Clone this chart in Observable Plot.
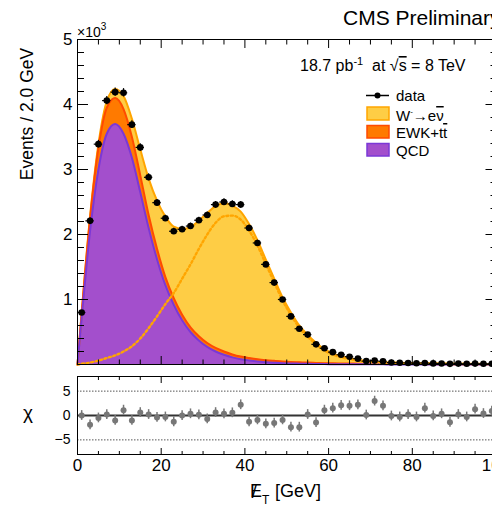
<!DOCTYPE html>
<html>
<head>
<meta charset="utf-8">
<script src="https://cdn.jsdelivr.net/npm/d3@7"></script>
<script src="https://cdn.jsdelivr.net/npm/@observablehq/plot@0.6"></script>
<style>
html, body { margin: 0; padding: 0; background: #fff; overflow: hidden; }
#wrap { position: relative; width: 496px; height: 506px; overflow: hidden; font-family: "Liberation Sans", Arial, sans-serif; color: #000; }
#wrap svg { position: absolute; left: 0; max-width: none; }
</style>
</head>
<body>
<div id="wrap"></div>
<script>
// ---- data (events per 2 GeV bin, bin centres in GeV) ----
const binCenters = [1,3,5,7,9,11,13,15,17,19,21,23,25,27,29,31,33,35,37,39,41,43,45,47,49,51,53,55,57,59,61,63,65,67,69,71,73,75,77,79,81,83,85,87,89,91,93,95,97,99];
const dataEvents = [800,2210,3390,4060,4190,4180,3690,3340,2880,2490,2250,2050,2080,2130,2220,2300,2460,2500,2470,2460,2100,1870,1540,1260,1000,740,550,460,310,250,190,150,120,90,52,60,50,30,28,24,20,24,17,16,10,14,11,14,11,12];
const chiValues = [0.0,-1.9,-0.5,0.2,-1.0,1.1,-1.0,0.6,0.2,-0.4,-0.3,-1.3,0.0,0.35,0.15,-0.7,0.6,0.35,0.55,2.2,-1.3,-0.9,-1.7,-1.55,-0.9,-2.4,-2.4,0.2,-1.45,1.1,1.5,2.1,2.0,2.2,0.1,2.95,2.0,-0.1,-0.3,0.2,-0.3,1.5,-0.1,0.35,-1.4,0.2,-0.3,1.3,0.4,0.9];

// ---- model components, at x = 0, bin centres, 100 ----
const modelX = [0,1,3,5,7,9,11,13,15,17,19,21,23,25,27,29,31,33,35,37,39,41,43,45,47,49,51,53,55,57,59,61,63,65,67,69,71,73,75,77,79,81,83,85,87,89,91,93,95,97,99,100];
const qcdModel = [0,720,2050,3000,3550,3700,3550,3180,2650,2100,1620,1220,920,680,500,370,270,200,150,110,80,60,45,35,27,20,16,13,10,8,6,5,4,3,3,2,2,2,1,1,1,1,1,1,1,1,1,1,1,1,1,1];
const ewkModel = [0,70,200,330,400,400,380,320,260,200,160,125,100,85,72,65,60,55,50,45,42,40,36,32,29,26,23,21,19,17,15,13,12,11,10,9,8,7,6.5,6,5.5,5,5,4.5,4,4,3.5,3.5,3,3,3,3];
const wModel = [0,10,30,60,100,140,200,280,400,560,740,930,1100,1320,1540,1780,2000,2180,2280,2290,2230,2060,1830,1545,1265,985,762,567,427,311,215,153,110,85,60,42,33,27,24,21,18,15,13,12,10,9,8,7,6,6,5,5];

// ---- ticks ----
const xMajor = [0,20,40,60,80,100];
const xMinor = [5,10,15,25,30,35,45,50,55,65,70,75,85,90,95];
const yMajorTop = [0,1000,2000,3000,4000,5000];
const yLabelTop = [1000,2000,3000,4000,5000];
const yMinorTop = d3.range(0, 5001, 200).filter(d => d % 1000 !== 0);
const chiTicks = [-5,0,5];

// ---- colours ----
const W_FILL = "#fecd45", W_LINE = "#ffa500";
const EWK_FILL = "#ff7a00", EWK_LINE = "#ff4a00";
const QCD_FILL = "#a34fcc", QCD_LINE = "#7b38d6";
const CHI_COL = "#777777";

const modelRows = modelX.map((x, i) => ({
  x,
  qcd: qcdModel[i],
  ewkTop: qcdModel[i] + ewkModel[i],
  total: qcdModel[i] + ewkModel[i] + wModel[i],
  w: wModel[i]
}));
const dataRows = binCenters.map((x, i) => ({x, y: dataEvents[i], err: Math.sqrt(dataEvents[i]), chi: chiValues[i]}));

const curve = "monotone-x";
const font = "'Liberation Sans', Arial, sans-serif";
const noText = () => "";

const topPlot = Plot.plot({
  width: 496, height: 370,
  marginLeft: 77, marginRight: 0.5, marginTop: 39, marginBottom: 6,
  x: {domain: [0, 100], label: null},
  y: {domain: [0, 5000], label: null},
  style: {fontFamily: font, fontSize: "17px", color: "#000", background: "transparent", overflow: "visible"},
  marks: [
    Plot.areaY(modelRows, {x: "x", y1: 0, y2: "total", fill: W_FILL, curve}),
    Plot.areaY(modelRows, {x: "x", y1: 0, y2: "ewkTop", fill: EWK_FILL, curve}),
    Plot.areaY(modelRows, {x: "x", y1: 0, y2: "qcd", fill: QCD_FILL, curve}),
    Plot.lineY(modelRows, {x: "x", y: "total", stroke: W_LINE, strokeWidth: 2, curve}),
    Plot.lineY(modelRows, {x: "x", y: "ewkTop", stroke: EWK_LINE, strokeWidth: 2, curve}),
    Plot.lineY(modelRows, {x: "x", y: "qcd", stroke: QCD_LINE, strokeWidth: 2, curve}),
    Plot.lineY(modelRows, {x: "x", y: "w", stroke: W_LINE, strokeWidth: 2.4, strokeDasharray: "2,2.6", curve}),
    Plot.ruleY(dataRows, {y: "y", x1: d => d.x - 1, x2: d => d.x + 1, stroke: "#000", strokeWidth: 1.2}),
    Plot.ruleX(dataRows, {x: "x", y1: d => d.y - d.err, y2: d => d.y + d.err, stroke: "#000", strokeWidth: 1.2}),
    Plot.dot(dataRows, {x: "x", y: "y", r: 3.3, fill: "#000"}),
    Plot.frame({stroke: "#000"}),
    Plot.axisX({anchor: "bottom", ticks: xMajor, tickSize: -8, tickFormat: noText, label: null}),
    Plot.axisX({anchor: "bottom", ticks: xMinor, tickSize: -4.5, tickFormat: noText, label: null}),
    Plot.axisX({anchor: "top", ticks: xMajor, tickSize: -8, tickFormat: noText, label: null}),
    Plot.axisX({anchor: "top", ticks: xMinor, tickSize: -4.5, tickFormat: noText, label: null}),
    Plot.axisY({anchor: "left", ticks: yMajorTop, tickSize: -11, tickFormat: noText, label: null}),
    Plot.axisY({anchor: "left", ticks: yMinorTop, tickSize: -7, tickFormat: noText, label: null}),
    Plot.axisY({anchor: "right", ticks: yMajorTop, tickSize: -11, tickFormat: noText, label: null}),
    Plot.axisY({anchor: "right", ticks: yMinorTop, tickSize: -6, tickFormat: noText, label: null}),
    Plot.axisY({anchor: "left", ticks: yLabelTop, tickSize: 0, tickPadding: 5, tickFormat: d => d / 1000, fontSize: 17, label: null})
  ]
});

const bottomPlot = Plot.plot({
  width: 496, height: 136,
  marginLeft: 77, marginRight: 0.5, marginTop: 6, marginBottom: 52,
  x: {domain: [0, 100], label: null},
  y: {domain: [-8, 8], label: null},
  style: {fontFamily: font, fontSize: "17px", color: "#000", background: "transparent", overflow: "visible"},
  marks: [
    Plot.ruleY([-5, 5], {stroke: "#555", strokeWidth: 1, strokeDasharray: "1.5,1.5"}),
    Plot.ruleY([0], {stroke: "#333", strokeWidth: 2}),
    Plot.ruleX(dataRows, {x: "x", y1: d => d.chi - 1, y2: d => d.chi + 1, stroke: CHI_COL, strokeWidth: 1.5}),
    Plot.dot(dataRows, {x: "x", y: "chi", r: 3, fill: CHI_COL}),
    Plot.frame({stroke: "#000"}),
    Plot.axisX({anchor: "bottom", ticks: xMajor, tickSize: -6, tickFormat: noText, label: null}),
    Plot.axisX({anchor: "bottom", ticks: xMinor, tickSize: -3, tickFormat: noText, label: null}),
    Plot.axisX({anchor: "top", ticks: xMajor, tickSize: -6, tickFormat: noText, label: null}),
    Plot.axisX({anchor: "top", ticks: xMinor, tickSize: -3, tickFormat: noText, label: null}),
    Plot.axisX({anchor: "bottom", ticks: xMajor, tickSize: 0, tickPadding: 4, fontSize: 17, label: null}),
    Plot.axisY({anchor: "left", ticks: chiTicks, tickSize: 0, tickPadding: 7, fontSize: 14, label: null})
  ]
});

const wrap = document.getElementById("wrap");
topPlot.style.top = "0px";
bottomPlot.style.top = "370px";
wrap.appendChild(topPlot);
wrap.appendChild(bottomPlot);

// ---- annotations overlay ----
const ns = "http://www.w3.org/2000/svg";
const overlay = document.createElementNS(ns, "svg");
overlay.setAttribute("width", 496);
overlay.setAttribute("height", 506);
overlay.style.top = "0px";
overlay.style.pointerEvents = "none";
overlay.setAttribute("font-family", font);
overlay.innerHTML = `
  <text x="343" y="25" font-size="21">CMS Preliminary</text>
  <text x="77" y="37" font-size="14">×10<tspan dy="-7" font-size="10">3</tspan></text>
  <text x="300" y="71" font-size="16" style="white-space:pre">18.7 pb<tspan dy="-6" font-size="11">-1</tspan><tspan dy="6">  at √</tspan><tspan text-decoration="overline">s</tspan> = 8 TeV</text>
  <line x1="366" x2="389" y1="95.5" y2="95.5" stroke="#000" stroke-width="1.5"/>
  <circle cx="377.5" cy="95.5" r="3" fill="#000"/>
  <text x="396" y="101" font-size="15">data</text>
  <rect x="367" y="107" width="22" height="13" fill="${W_FILL}" stroke="${W_LINE}" stroke-width="1.5"/>
  <text x="396" y="121" font-size="15">W<tspan dy="-7" font-size="8">-</tspan><tspan dy="7">→e</tspan><tspan text-decoration="overline">ν</tspan></text>
  <rect x="367" y="125.5" width="22" height="12.5" fill="${EWK_FILL}" stroke="${EWK_LINE}" stroke-width="1.5"/>
  <text x="396" y="138" font-size="15">EWK+t<tspan text-decoration="overline">t</tspan></text>
  <rect x="367" y="143.5" width="22" height="12.5" fill="${QCD_FILL}" stroke="${QCD_LINE}" stroke-width="1.5"/>
  <text x="396" y="156" font-size="15">QCD</text>
  <text transform="translate(33,114) rotate(-90)" text-anchor="middle" font-size="17.5">Events / 2.0 GeV</text>
  <text x="28" y="419" text-anchor="middle" font-size="19">χ</text>
  <text x="250" y="497" font-size="18">E</text>
  <text x="251.5" y="498" font-size="19">/</text>
  <text x="262" y="504" font-size="12">T</text>
  <text x="275" y="497" font-size="18">[GeV]</text>
`;
wrap.appendChild(overlay);
</script>
</body>
</html>
